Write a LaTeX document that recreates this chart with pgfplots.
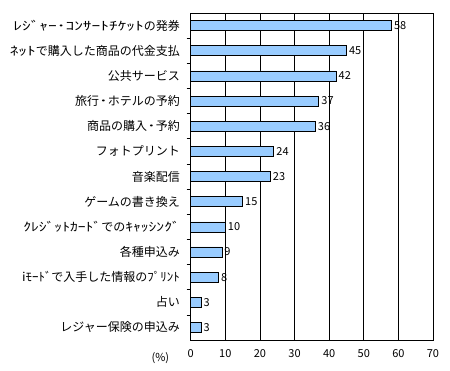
\documentclass[border=0pt]{standalone}
\usepackage{fontspec}
\setmainfont{Noto Sans CJK JP}
\usepackage{graphicx}
\usepackage{pgfplots}
\pgfplotsset{compat=1.18}
\definecolor{barblue}{HTML}{99CCFF}
\newcommand{\hw}[1]{\scalebox{1.45}[1]{#1}}
\newcommand{\hwm}[1]{\scalebox{1.3}[1]{#1}}
\newcommand{\hwn}[1]{\scalebox{1.08}[1]{#1}}
\begin{document}
\begin{tikzpicture}[x=1pt,y=1pt]
\useasboundingbox (-190.7,-30) rectangle (259.3,340);
\begin{axis}[
  at={(0,0)}, anchor=south west,
  scale only axis, width=242.3pt, height=327pt,
  xbar, bar width=10pt,
  xmin=0, xmax=70, xtick={0,10,...,70},
  ymin=-0.5, ymax=12.5,
  ytick={0,...,12},
  yticklabels={レジャー保険の申込み,占い,\hwn{iﾓｰﾄﾞ}で入手した情報の\hwn{ﾌﾟﾘﾝﾄ},各種申込み,\hwm{ｸﾚｼﾞｯﾄｶｰﾄﾞ}での\hwm{ｷｬｯｼﾝｸﾞ},ゲームの書き換え,音楽配信,フォトプリント,商品の購入\hw{･}予約,旅行\hw{･}ホテルの予約,公共サービス,\hw{ﾈｯﾄ}で購入した商品の代金支払,\hw{ﾚｼﾞｬｰ･ｺﾝｻｰﾄﾁｹｯﾄ}の発券},
  ytick pos=left, xtick pos=bottom,
  major y tick style={draw=none},
  minor ytick={0.5,1.5,...,11.5},
  minor tick length=4pt,
  minor y tick style={black, line width=0.6pt},
  major x tick style={draw=none},
  xmajorgrids, grid style={black, line width=0.6pt},
  axis line style={black, line width=0.8pt},
  tick label style={font=\fontsize{11}{12}\selectfont},
  yticklabel style={xshift=-3pt, font=\fontsize{12}{13}\selectfont},
  xticklabel style={yshift=-6pt},
  /pgf/number format/assume math mode=true,
  nodes near coords,
  nodes near coords style={font=\fontsize{11}{12}\selectfont, anchor=west, xshift=-1pt},
  clip=false,
]
\addplot[fill=barblue, draw=black, line width=0.6pt] coordinates {
(3,0) (3,1) (8,2) (9,3) (10,4) (15,5) (23,6) (24,7) (36,8) (37,9) (42,10) (45,11) (58,12)
};
\node[font=\fontsize{11}{12}\selectfont] at (axis description cs:-0.125,-0.055) {(\%)};
\end{axis}
\end{tikzpicture}
\end{document}
